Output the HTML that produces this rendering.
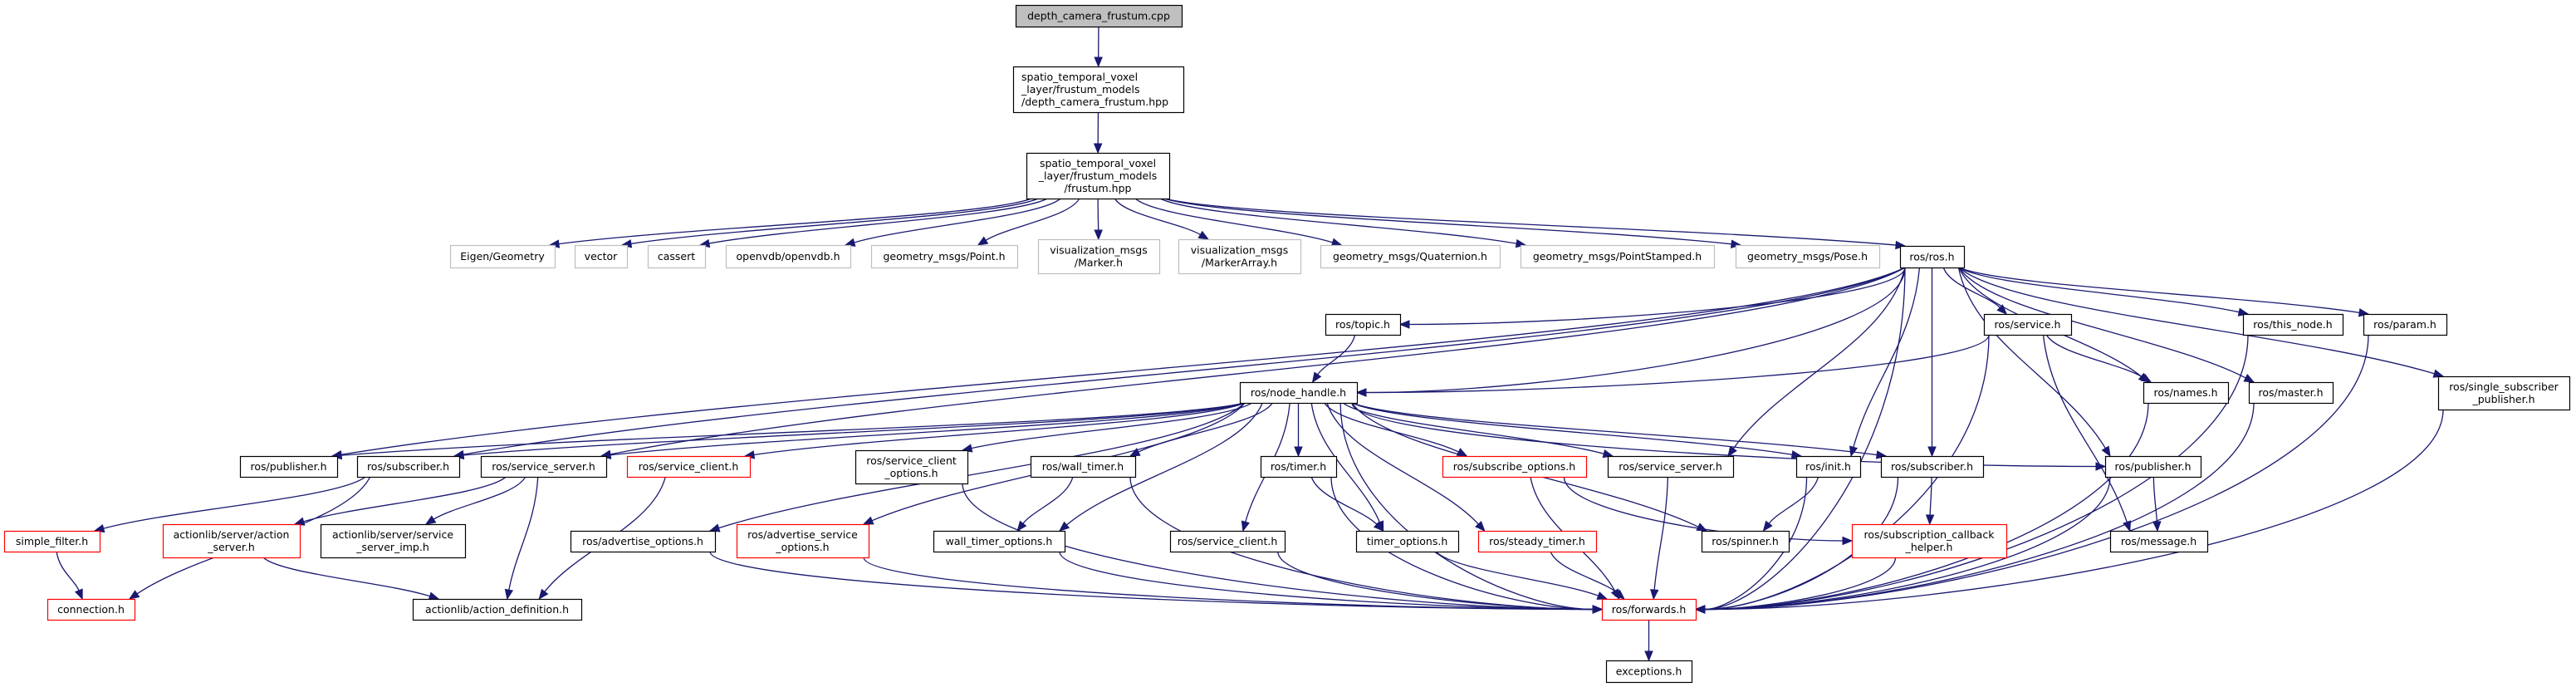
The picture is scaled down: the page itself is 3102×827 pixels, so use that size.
<!DOCTYPE html>
<html><head><meta charset="utf-8">
<style>
html,body{margin:0;padding:0;background:#fff;width:3102px;height:827px;overflow:hidden}
svg text{font-family:"DejaVu Sans","Liberation Sans",sans-serif;font-size:12.5px;fill:#000}
</style></head>
<body>
<svg id="g" width="3102" height="827" xmlns="http://www.w3.org/2000/svg">
<text x="1323" y="24" text-anchor="middle">depth_camera_frustum.cpp</text>
</svg>
<script>
(function(){
var N={
cpp:[1223,6,1423,32,'root',['depth_camera_frustum.cpp'],'c'],
dhpp:[1220,80,1425,135,'n',['spatio_temporal_voxel','_layer/frustum_models','/depth_camera_frustum.hpp'],'l'],
fhpp:[1236,184,1408,239,'n',['spatio_temporal_voxel','_layer/frustum_models','/frustum.hpp'],'c'],
eig:[542,295,668,322,'g',['Eigen/Geometry']],
vec:[692,295,755,322,'g',['vector']],
cas:[780,295,849,322,'g',['cassert']],
ovdb:[874,295,1024,322,'g',['openvdb/openvdb.h']],
pt:[1049,295,1225,322,'g',['geometry_msgs/Point.h']],
mk:[1250,288,1396,329,'g',['visualization_msgs','/Marker.h']],
mka:[1419,288,1566,329,'g',['visualization_msgs','/MarkerArray.h']],
qt:[1590,295,1806,322,'g',['geometry_msgs/Quaternion.h']],
ps:[1831,295,2064,322,'g',['geometry_msgs/PointStamped.h']],
pose:[2090,295,2263,322,'g',['geometry_msgs/Pose.h']],
ros:[2288,296,2365,322,'n',['ros/ros.h']],
topic:[1596,378,1686,403,'n',['ros/topic.h']],
svc:[2389,378,2494,403,'n',['ros/service.h']],
thisn:[2701,378,2821,403,'n',['ros/this_node.h']],
param:[2846,378,2946,403,'n',['ros/param.h']],
nh:[1493,460,1634,485,'n',['ros/node_handle.h']],
names:[2581,460,2683,485,'n',['ros/names.h']],
master:[2708,460,2809,485,'n',['ros/master.h']],
ssp:[2936,453,3094,493,'n',['ros/single_subscriber','_publisher.h']],
pubL:[289,549,406,574,'n',['ros/publisher.h']],
subL:[430,549,553,574,'n',['ros/subscriber.h']],
ssL:[579,549,730,574,'n',['ros/service_server.h']],
scL:[755,549,903,574,'r',['ros/service_client.h']],
sco:[1030,542,1165,582,'n',['ros/service_client','_options.h']],
wt:[1241,549,1367,574,'n',['ros/wall_timer.h']],
timer:[1518,549,1609,574,'n',['ros/timer.h']],
subo:[1737,549,1910,574,'r',['ros/subscribe_options.h']],
ssR:[1936,549,2087,574,'n',['ros/service_server.h']],
init:[2163,549,2240,574,'n',['ros/init.h']],
subR:[2265,549,2388,574,'n',['ros/subscriber.h']],
pubR:[2535,549,2650,574,'n',['ros/publisher.h']],
sf:[5,639,120,664,'r',['simple_filter.h']],
as:[196,631,361,671,'r',['actionlib/server/action','_server.h']],
ssi:[386,631,560,671,'n',['actionlib/server/service','_server_imp.h']],
ao:[687,639,861,664,'n',['ros/advertise_options.h']],
aso:[887,631,1046,671,'r',['ros/advertise_service','_options.h']],
wto:[1124,639,1282,664,'n',['wall_timer_options.h']],
scR:[1409,639,1547,664,'n',['ros/service_client.h']],
to:[1633,639,1756,664,'n',['timer_options.h']],
st:[1780,639,1922,664,'r',['ros/steady_timer.h']],
spin:[2049,639,2154,664,'n',['ros/spinner.h']],
sch:[2230,631,2416,671,'r',['ros/subscription_callback','_helper.h']],
msg:[2541,639,2658,664,'n',['ros/message.h']],
conn:[57,721,162,746,'r',['connection.h']],
ad:[497,721,700,746,'n',['actionlib/action_definition.h']],
fw:[1929,721,2042,746,'r',['ros/forwards.h']],
exc:[1934,795,2037,821,'n',['exceptions.h']]
};
var E=[['cpp','dhpp'],['dhpp','fhpp'],
['fhpp','eig'],['fhpp','vec'],['fhpp','cas'],['fhpp','ovdb'],['fhpp','pt'],['fhpp','mk'],['fhpp','mka'],['fhpp','qt'],['fhpp','ps'],['fhpp','pose'],['fhpp','ros'],
['ros','pubL'],['ros','subL'],['ros','ssL'],['ros','topic',1],['ros','nh',1],['ros','svc'],['ros','thisn'],['ros','param'],['ros','ssp'],['ros','names'],['ros','master'],['ros','init'],['ros','subR'],['ros','pubR'],['ros','ssR'],['ros','fw',1],
['svc','nh',1],['svc','names'],['svc','fw',1],['svc','msg'],['topic','nh'],
['thisn','fw',1],['param','fw',1],['names','fw',1],['master','fw',1],['ssp','fw',1],['pubR','fw',1],['pubR','msg'],['subR','fw',1],['subR','sch'],['init','spin'],['init','fw',1],['ssR','fw'],['subo','fw'],['subo','sch',1],['sch','fw',1],['st','fw'],['to','fw'],['timer','to'],['timer','fw',1],['scR','fw',1],['wto','fw',1],['wt','wto'],['wt','fw',1],['sco','fw',1],['aso','fw',1],['ao','fw',1],['fw','exc'],
['nh','pubL'],['nh','subL'],['nh','ssL'],['nh','scL'],['nh','ao'],['nh','aso'],['nh','sco'],['nh','wt'],['nh','wto'],['nh','timer'],['nh','scR'],['nh','to'],['nh','st'],['nh','subo'],['nh','ssR'],['nh','spin'],['nh','init'],['nh','subR'],['nh','pubR',1],['nh','fw',1],
['subL','sf'],['subL','conn'],['sf','conn'],['ssL','as'],['ssL','ssi'],['ssL','ad'],['scL','ad'],['as','ad']];
var s='';
function cl(v,a,b){return Math.max(a,Math.min(b,v));}
E.forEach(function(e){
 var a=N[e[0]],b=N[e[1]];
 var acx=(a[0]+a[2])/2,bcx=(b[0]+b[2])/2;
 var sx=cl(acx+(bcx-acx)*0.12,a[0]+6,a[2]-6),sy=a[3];
 var dx=bcx-sx,ex,ey,c1x,c1y,c2x,c2y;
 if(e[2] && Math.abs(dx)>(b[2]-b[0])/2+10){
   var lft=dx>0; ex=lft?b[0]:b[2]; ey=(b[1]+b[3])/2;
   c1x=sx; c1y=sy+(ey-sy)*0.6; c2x=ex+(lft?-1:1)*Math.abs(ex-sx)*0.35; c2y=ey;
 } else {
   ex=cl(bcx+(sx-bcx)*0.25,b[0]+6,b[2]-6); ey=b[1];
   c1x=sx+(ex-sx)*0.1; c1y=sy+(ey-sy)*0.4; c2x=ex-(ex-sx)*0.3; c2y=ey-(ey-sy)*0.4;
 }
 var vx=ex-c2x,vy=ey-c2y,l=Math.hypot(vx,vy)||1;vx/=l;vy/=l;
 var L=11,W=4.5,bx=ex-vx*L,by=ey-vy*L;
 s+='<path d="M'+sx+','+sy+' C'+c1x+','+c1y+' '+c2x+','+c2y+' '+bx+','+by+'" fill="none" stroke="#191970" stroke-width="1.3"/>';
 s+='<polygon points="'+ex+','+ey+' '+(bx-vy*W)+','+(by+vx*W)+' '+(bx+vy*W)+','+(by-vx*W)+'" fill="#191970" stroke="#191970"/>';
});
for(var k in N){var n=N[k];
 var fill=n[4]=='root'?'#bfbfbf':'#fff',st=n[4]=='g'?'#bfbfbf':n[4]=='r'?'#ff0000':'#000';
 s+='<rect x="'+(n[0]+.5)+'" y="'+(n[1]+.5)+'" width="'+(n[2]-n[0])+'" height="'+(n[3]-n[1])+'" fill="'+fill+'" stroke="'+st+'" stroke-width="1.2"/>';
 var ls=n[5],cx=(n[0]+n[2])/2,cy=(n[1]+n[3])/2,ty=cy-(ls.length-1)*7.5+4.5;
 for(var i=0;i<ls.length;i++){
  if(n[6]=='l') s+='<text x="'+(n[0]+10)+'" y="'+(ty+i*15)+'">'+ls[i]+'</text>';
  else s+='<text x="'+cx+'" y="'+(ty+i*15)+'" text-anchor="middle">'+ls[i]+'</text>';
 }
}
document.getElementById('g').innerHTML=s;
})();
</script>
</body></html>
